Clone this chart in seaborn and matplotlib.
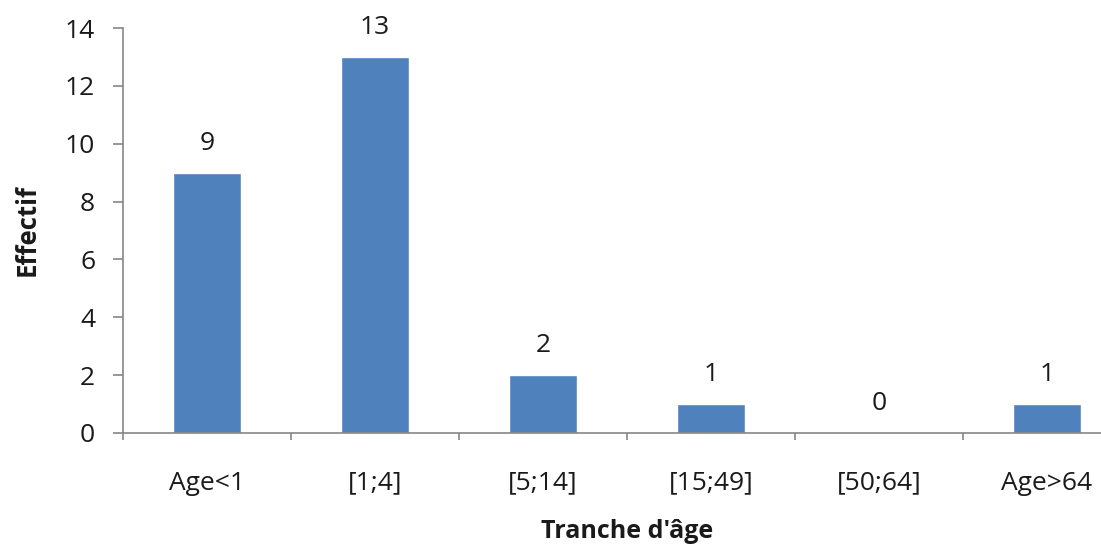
import matplotlib
matplotlib.use("Agg")
import matplotlib.pyplot as plt
import seaborn as sns
import pandas as pd

categories = ["Age<1", "[1;4]", "[5;14]", "[15;49]", "[50;64]", "Age>64"]
effectif = [9, 13, 2, 1, 0, 1]
yticks = [0, 2, 4, 6, 8, 10, 12, 14]

sns.set_style("white")
plt.rcParams["font.family"] = ["Open Sans", "DejaVu Sans"]

df = pd.DataFrame({"tranche": categories, "effectif": effectif})

fig = plt.figure(figsize=(11.01, 5.48), dpi=100)
W, H = 1101, 548
left, right, bottom, top = 123, 1131, 433, 28
ax = fig.add_axes([left / W, 1 - bottom / H, (right - left) / W, (bottom - top) / H])

sns.barplot(data=df, x="tranche", y="effectif", color="#4F81BD", width=0.4,
            saturation=1, ax=ax)

ax.set_xlim(-0.5, len(categories) - 0.5)
ax.set_ylim(0, 14)
ax.set_yticks(yticks)

grey = "#868686"
text_col = "#1a1a1a"
for side in ["top", "right"]:
    ax.spines[side].set_visible(False)
for side in ["left", "bottom"]:
    ax.spines[side].set_color(grey)
    ax.spines[side].set_linewidth(1.2)

# category labels without marks, boundary tick marks between categories
ax.tick_params(axis="x", which="major", bottom=True, length=0, pad=27,
               labelsize=19, colors=text_col)
ax.set_xticks([i + 0.5 for i in range(-1, len(categories))], minor=True)
ax.tick_params(axis="x", which="minor", bottom=True, length=5, width=1.2,
               color=grey, direction="out")
ax.tick_params(axis="y", left=True, length=7, width=1.2, color=grey, direction="out",
               labelsize=19, labelcolor=text_col, pad=13)

for i, v in enumerate(effectif):
    ax.annotate(str(v), xy=(i, v), xytext=(0, 12), textcoords="offset points",
                ha="center", va="bottom", fontsize=19, color=text_col)

ax.set_xlabel("Tranche d'âge", fontsize=18, fontweight="bold", color=text_col)
ax.set_ylabel("Effectif", fontsize=18.5, fontweight="bold", color=text_col)
ax.xaxis.set_label_coords(0.5, -(519 - bottom) / (bottom - top))
ax.xaxis.label.set_va("top")
ax.yaxis.set_label_coords(-(123 - 27) / (right - left), 0.5)
ax.yaxis.label.set_va("center")

fig.savefig("out.png", dpi=100)
